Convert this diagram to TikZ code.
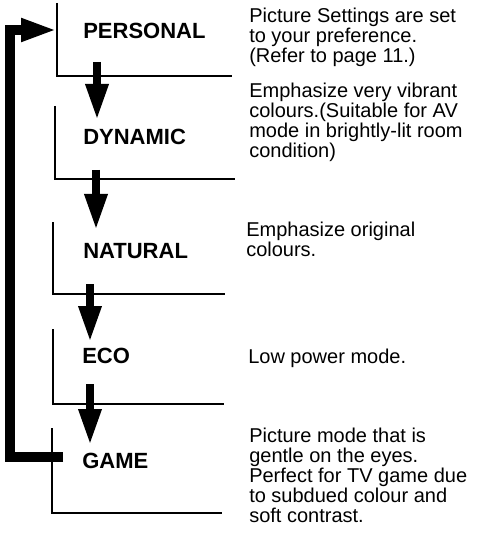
\documentclass[tikz,border=0pt]{standalone}
\usepackage{fontspec}
\setmainfont{Liberation Sans}
\usetikzlibrary{arrows.meta}
\usetikzlibrary{positioning}

\begin{document}
\begin{tikzpicture}[x=0.75pt,y=-0.75pt]
		\useasboundingbox (0,0) rectangle (479,545);
		\begin{scope}[every node/.style = {anchor=base west, inner sep=0pt, font=\bfseries\fontsize{16.5}{16}\selectfont}]
			\node (P) at (83,39) {PERSONAL};
			\node (D) at (83,145) {DYNAMIC};
			\node (N) at (83,258) {NATURAL};
			\node (E) at (82,363) {ECO};
			\node (G) at (82,468) {GAME};
		\end{scope}
		% base anchor of these sits on the last line
		\begin{scope}[every node/.style = {anchor=base west, inner sep=0pt, align=left, font=\fontsize{15}{15}\selectfont}]
			\node (dP) at (249,63) {Picture Settings are set\\to your preference.\\(Refer to page 11.)};
			\node (dD) at (249,158) {Emphasize very vibrant\\colours.(Suitable for AV\\mode in brightly-lit room\\condition)};
			\node (dN) at (246,256) {Emphasize original\\colours.};
			\node (dE) at (248,363) {Low power mode.};
			\node (dG) at (249,522) {Picture mode that is\\gentle on the eyes.\\Perfect for TV game due\\to subdued colour and\\soft contrast.};
		\end{scope}
		\begin{scope}[line width=1.2pt]
			\draw (57,3) -- (57,76) -- (232,76);
			\draw (55,106) -- (55,179) -- (235,179);
			\draw (53,222) -- (53,294) -- (225,294);
			\draw (53,329) -- (53,404) -- (224,404);
			\draw (52,428) -- (52,513) -- (222,513);
		\end{scope}
		\coordinate (a1) at (97,62);
		\coordinate (b1) at (97,120);
		\coordinate (a2) at (96,170);
		\coordinate (b2) at (96,230);
		\coordinate (a3) at (90,284);
		\coordinate (b3) at (90,342);
		\coordinate (a4) at (90,384);
		\coordinate (b4) at (90,445);
		\coordinate (l1) at (63,457);
		\coordinate (l2) at (10,457);
		\coordinate (l3) at (10,30);
		\coordinate (l4) at (57,30);
		\begin{scope}[>={Triangle[width=16pt,length=27pt]}]
			\path[->, line width=6pt] (a1) edge (b1);
			\path[->, line width=6pt] (a2) edge (b2);
			\path[->, line width=6pt] (a3) edge (b3);
			\path[->, line width=6pt] (a4) edge (b4);
			\draw[->, line width=7.5pt, line join=miter] (l1) -- (l2) -- (l3) -- (l4);
		\end{scope}
	\end{tikzpicture}
\end{document}
